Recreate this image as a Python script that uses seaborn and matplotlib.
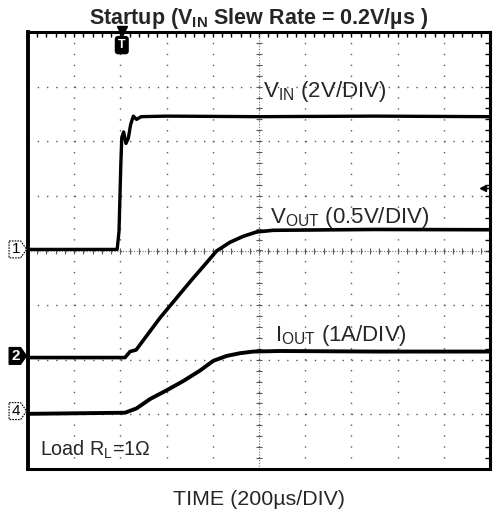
import numpy as np
import pandas as pd
import seaborn as sns
import matplotlib.pyplot as plt
from matplotlib.patches import Polygon

# scope traces in divisions (x: 0..10, y: -4..4 around centre line)
vin_t = [0.0, 1.93, 1.97, 2.01, 2.03, 2.07, 2.12, 2.17, 2.22, 2.28, 2.35, 2.45, 3.0, 5.0, 7.5, 10.0]
vin_y = [0.02, 0.02, 0.35, 1.6, 2.07, 2.17, 1.96, 2.05, 2.3, 2.46, 2.4, 2.45, 2.46, 2.45, 2.46, 2.45]

vout_t = [0.0, 2.1, 2.21, 2.34, 2.86, 3.54, 3.94, 4.08, 4.37, 4.66, 4.95, 5.31, 7.5, 10.0]
vout_y = [-1.96, -1.96, -1.85, -1.82, -1.23, -0.54, -0.15, -0.01, 0.15, 0.26, 0.34, 0.37, 0.385, 0.38]

iout_t = [0.0, 2.1, 2.35, 2.64, 3.0, 3.36, 3.72, 4.01, 4.30, 4.59, 4.88, 5.45, 7.5, 10.0]
iout_y = [-2.99, -2.97, -2.89, -2.72, -2.56, -2.39, -2.20, -2.02, -1.93, -1.88, -1.85, -1.84, -1.85, -1.85]

trace_labels = [r"$\mathregular{V_{IN}}$ (2V/DIV)", r"$\mathregular{V_{OUT}}$ (0.5V/DIV)", r"$\mathregular{I_{OUT}}$ (1A/DIV)"]
label_pos = [(5.09, 2.81), (5.24, 0.51), (5.35, -1.65)]
ch_names = ["1", "2", "4"]
ch_levels = [0.02, -1.93, -2.94]

sns.set_style("white")
plt.rcParams['font.family'] = ['Liberation Sans', 'DejaVu Sans']
plt.rcParams['mathtext.fontset'] = 'custom'
plt.rcParams['mathtext.rm'] = 'Liberation Sans'
plt.rcParams['mathtext.bf'] = 'Liberation Sans:bold'

fig = plt.figure(figsize=(4.94, 5.14), dpi=100)
ax = fig.add_axes([28/494, 1-469/514, 462/494, 437/514])

d = pd.concat([
    pd.DataFrame({'t': vin_t, 'v': vin_y, 'ch': 'vin'}),
    pd.DataFrame({'t': vout_t, 'v': vout_y, 'ch': 'vout'}),
    pd.DataFrame({'t': iout_t, 'v': iout_y, 'ch': 'iout'}),
])
for ch, lw in [('vin', 2.4), ('vout', 2.6), ('iout', 2.8)]:
    sns.lineplot(x='t', y='v', data=d[d.ch == ch], color='black', lw=lw, ax=ax, zorder=5)

ax.set_xlim(0, 10)
ax.set_ylim(-4, 4)
ax.set_xlabel('')
ax.set_ylabel('')

# graticule
ax.set_xticks(np.arange(0, 11, 1))
ax.set_yticks(np.arange(-4, 5, 1))
ax.set_xticks(np.arange(0, 10.01, 0.2), minor=True)
ax.set_yticks(np.arange(-4, 4.01, 0.2), minor=True)
ax.tick_params(which='both', direction='in', length=3.5, width=1, color='black',
               top=True, right=True, labelbottom=False, labelleft=False)
ax.grid(axis='x', color='0.35', lw=1.0, linestyle=(0, (1.0, 6.85)))
ax.grid(axis='y', color='0.35', lw=1.0, linestyle=(0, (1.0, 5.65)))
for s in ax.spines.values():
    s.set_linewidth(2.2)
    s.set_color('black')
ax.spines['left'].set_linewidth(2.8)

# centre cross with fine ticks
ax.axhline(0, color='0.45', lw=0.8, linestyle=(0, (1, 1.5)), zorder=1)
ax.axvline(5, color='0.45', lw=0.8, linestyle=(0, (1, 1.5)), zorder=1)
cx = np.arange(0, 10.01, 0.2)
ax.plot(cx, np.zeros_like(cx), '|', ms=5, color='0.35', mew=0.8, zorder=1)
cy = np.arange(-4, 4.01, 0.2)
ax.plot(np.full_like(cy, 5), cy, '_', ms=5, color='0.35', mew=0.8, zorder=1)

# labels
for lab, (x, y) in zip(trace_labels, label_pos):
    ax.text(x, y, lab, fontsize=16, ha='left', va='baseline', zorder=6)
ax.text(0.26, -3.76, r"Load $\mathregular{R_L}$=1Ω", fontsize=14.2, ha='left', va='baseline')

# channel markers (pentagon tags on the left edge)
tr = ax.get_yaxis_transform()
for n, lvl in zip(ch_names, ch_levels):
    filled = n == "2"
    h = 0.155
    pts = [(-0.041, lvl + h), (-0.016, lvl + h), (-0.003, lvl), (-0.016, lvl - h), (-0.041, lvl - h)]
    ax.add_patch(Polygon(pts, closed=True, transform=tr, clip_on=False, zorder=7,
                         fc='black' if filled else 'white', ec='black', lw=0.8,
                         ls='-' if filled else (0, (1.5, 1))))
    ax.text(-0.026, lvl, n, transform=tr, fontsize=11, ha='center', va='center',
            color='white' if filled else 'black', fontweight='bold' if filled else 'normal',
            clip_on=False, zorder=8)

# trigger position / level markers
ax.plot([2.03], [4.02], 'v', ms=7, color='black', clip_on=False, zorder=7)
ax.text(2.03, 3.76, "T", fontsize=9, fontweight='bold', color='white', ha='center', va='center',
        bbox=dict(boxstyle='round,pad=0.2', fc='black', ec='black'), zorder=7)
ax.plot([9.85], [1.14], '<', ms=5, color='black', zorder=7)
ax.plot([9.85, 9.97], [1.14, 1.14], color='black', lw=1, zorder=7)

fig.text(259/494, 1-24/514, r"Startup ($\mathbf{V_{IN}}$ Slew Rate = 0.2V/µs )",
         fontsize=15.5, fontweight='bold', ha='center', va='baseline')
fig.text(259/494, 1-505/514, "TIME (200µs/DIV)", fontsize=15.4, ha='center', va='baseline')

fig.savefig('out.png', dpi=100)
